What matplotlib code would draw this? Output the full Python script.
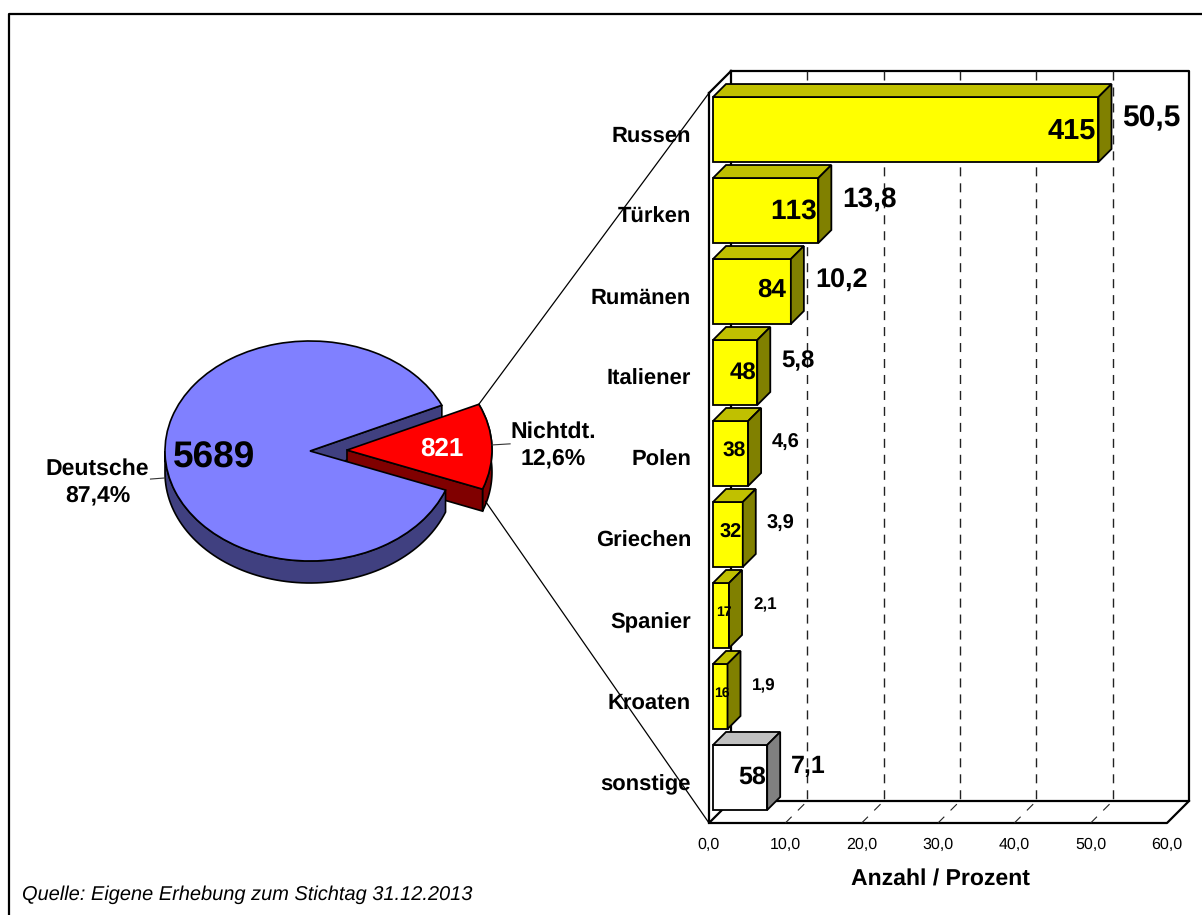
import numpy as np
import matplotlib
matplotlib.use('Agg')
import matplotlib.pyplot as plt
from matplotlib.patches import Polygon, ConnectionPatch
from matplotlib.lines import Line2D

plt.rcParams['font.family'] = ['Liberation Sans', 'DejaVu Sans']
plt.rcParams['text.hinting'] = 'none'
plt.rcParams['text.hinting_factor'] = 1
plt.rcParams['text.kerning_factor'] = 6

# data
pie_labels = ['Nichtdt.\n12,6%', 'Deutsche\n87,4%']
pie_counts = [821, 5689]
categories = ['Russen', 'Türken', 'Rumänen', 'Italiener', 'Polen', 'Griechen', 'Spanier', 'Kroaten', 'sonstige']
percents = [50.5, 13.8, 10.2, 5.8, 4.6, 3.9, 2.1, 1.9, 7.1]
percent_labels = ['50,5', '13,8', '10,2', '5,8', '4,6', '3,9', '2,1', '1,9', '7,1']
counts = [415, 113, 84, 48, 38, 32, 17, 16, 58]
x_ticks = [0, 10, 20, 30, 40, 50, 60]
x_tick_labels = ['0,0', '10,0', '20,0', '30,0', '40,0', '50,0', '60,0']

# styles for each bar
percent_sizes = [21.8, 20.2, 19.2, 17, 14.5, 14.5, 12.2, 12.2, 18]
count_sizes = [21, 20.3, 18.8, 17, 15, 14.3, 10.4, 10.4, 18]
count_gaps = [3, 1, 5, 1, 2, 1, -3, -2, 1]
count_up = [-3, -1, 1, -1, 3, 2, 3, 3, 0]
front = ['#FFFF00'] * 8 + ['#FFFFFF']
top = ['#C0C000'] * 8 + ['#C0C0C0']
side = ['#808000'] * 8 + ['#808080']

W, H = 1202, 915
fig = plt.figure(figsize=(W / 100, H / 100), dpi=100)


def axes_px(x0, y0, x1, y1):
    # pixel box measured from the top left corner of the image
    return fig.add_axes([x0 / W, 1 - y1 / H, (x1 - x0) / W, (y1 - y0) / H])


# bar part
ax = axes_px(709, 93, 1167, 823)
ax.set_xlim(0, 60)
ax.set_ylim(8.562, -0.451)
ax.patch.set_visible(False)
for s in ax.spines.values():
    s.set_visible(False)
px_x = 60 / 458
px_y = 9.013 / 730
wall_x = 22 * px_x
wall_y = 22 * px_y
ymin, ymax = ax.get_ylim()

# walls and floor
wall = dict(color='k', lw=1.6, clip_on=False, zorder=1, solid_capstyle='projecting')
ax.plot([wall_x, 60 + wall_x, 60 + wall_x, wall_x, wall_x],
        [ymax - wall_y, ymax - wall_y, ymin - wall_y, ymin - wall_y, ymax - wall_y], **wall)
ax.plot([0, 0, wall_x], [ymax, ymin, ymin - wall_y], **wall)
ax.plot([0, wall_x], [ymax, ymax - wall_y], **wall)
ax.plot([0, 60, 60 + wall_x], [ymin, ymin, ymin - wall_y], **wall)
for t in x_ticks[1:-1]:
    ax.plot([t + wall_x] * 2, [ymax - wall_y, ymin - wall_y], color='#222222', lw=1,
            ls=(0, (6.5, 5)), clip_on=False, zorder=1)
    ax.plot([t, t + wall_x], [ymin, ymin - wall_y], color='#222222', lw=0.8,
            ls=(0, (8, 8)), clip_on=False, zorder=1)

# bars with their top and side faces
rows = np.arange(len(categories))
bar_h = 65 / 81
x_start = 4 * px_x
ddx = 13 * px_x
ddy = 13 * px_y
ax.barh(rows, percents, left=x_start, height=bar_h, color=front, edgecolor='k', lw=1.3, zorder=3)
for i, p in enumerate(percents):
    up = i - bar_h / 2
    low = i + bar_h / 2
    end = x_start + p
    ax.add_patch(Polygon([(x_start, up), (end, up), (end + ddx, up - ddy), (x_start + ddx, up - ddy)],
                         fc=top[i], ec='k', lw=1.3, zorder=3, clip_on=False))
    ax.add_patch(Polygon([(end, up), (end + ddx, up - ddy), (end + ddx, low - ddy), (end, low)],
                         fc=side[i], ec='k', lw=1.3, zorder=3, clip_on=False))
    ax.annotate(str(counts[i]), (end, i), xytext=(-count_gaps[i], count_up[i]), textcoords='offset pixels',
                ha='right', va='center', fontsize=count_sizes[i], fontweight='bold', zorder=5)
    ax.annotate(percent_labels[i], (end, i), xytext=(24, 11), textcoords='offset pixels',
                ha='left', va='center', fontsize=percent_sizes[i], fontweight='bold', zorder=5)
    ax.annotate(categories[i], (0, i), xytext=(-18, -7), textcoords='offset pixels',
                ha='right', va='center', fontsize=15.7, fontweight='bold', zorder=5)

ax.set_xticks(x_ticks)
ax.set_xticklabels(x_tick_labels, fontsize=11.8)
ax.set_yticks([])
ax.tick_params(axis='x', length=0, pad=10)
ax.set_xlabel('Anzahl / Prozent', fontsize=16.6, fontweight='bold', labelpad=12, x=0.506)

# pie part, one unit is 145 px wide and 110 px high
pax = axes_px(310 - 1.2 * 145, 451 - 1.2 * 110, 310 + 1.4 * 145, 451 + 1.5 * 110)
wedges, _ = pax.pie(pie_counts, startangle=-20.8, colors=['#FF0000', '#8080FF'], explode=[37 / 145, 0],
                    wedgeprops=dict(edgecolor='k', linewidth=1.2))
pax.set_aspect('auto')
pax.set_xlim(-1.2, 1.4)
pax.set_ylim(-1.5, 1.2)
depth = 22 / 110


def arc(w, a, b, dy=0.0):
    th = np.radians(np.linspace(a, b, 80))
    return np.column_stack([w.center[0] + w.r * np.cos(th), w.center[1] + w.r * np.sin(th) - dy])


red, blue = wedges
red.set_zorder(4)
blue.set_zorder(6)

# cut face behind the pulled out slice
p_up = arc(blue, blue.theta1, blue.theta1)[0]
pax.add_patch(Polygon([blue.center, p_up, p_up - [0, depth], np.array(blue.center) - [0, depth]],
                      fc='#404080', ec='k', lw=1.2, zorder=2))
# side of red slice
p_low = arc(red, red.theta1, red.theta1)[0]
pax.add_patch(Polygon(np.vstack([arc(red, red.theta1, red.theta2),
                                 arc(red, red.theta2, red.theta1, depth)]),
                      fc='#800000', ec='k', lw=1.2, zorder=3))
pax.add_patch(Polygon([red.center, p_low, p_low - [0, depth], np.array(red.center) - [0, depth]],
                      fc='#800000', ec='k', lw=1.2, zorder=3))
# outer rim of big part
pax.add_patch(Polygon(np.vstack([arc(blue, 180, blue.theta2), arc(blue, blue.theta2, 180, depth)]),
                      fc='#404080', ec='k', lw=1.2, zorder=5))

pax.text(-0.66, -0.06, str(pie_counts[1]), fontsize=26.5, fontweight='bold', ha='center', va='center', zorder=8)
pax.text(0.91, 0.02, str(pie_counts[0]), fontsize=18.6, fontweight='bold', color='w', ha='center',
         va='center', zorder=8)
pax.text(1.675, 0.055, pie_labels[0], fontsize=16.6, fontweight='bold', ha='center', va='center',
         linespacing=1.3, clip_on=False, zorder=8)
pax.text(-1.465, -0.28, pie_labels[1], fontsize=16.6, fontweight='bold', ha='center', va='center',
         linespacing=1.3, clip_on=False, zorder=8)
pax.plot([1.255, 1.38], [0.055, 0.065], color='#333333', lw=0.8, clip_on=False, zorder=8)
pax.plot([-1.1, -1.0], [-0.255, -0.245], color='#333333', lw=0.8, clip_on=False, zorder=8)

# lines from the slice to the bars
p_high = arc(red, red.theta2, red.theta2)[0]
for start, end in [(p_high, (0, ymax)), (p_low - [-0.02, 0.11], (0, ymin))]:
    fig.add_artist(ConnectionPatch(start, end, 'data', 'data', axesA=pax, axesB=ax, color='k', lw=0.9))

# frame and source
fig.add_artist(Line2D([8.5 / W, 8.5 / W, 1], [0, 1 - 14 / H, 1 - 14 / H], color='k', lw=1.6,
                      transform=fig.transFigure))
fig.text(22 / W, 1 - 895 / H, 'Quelle: Eigene Erhebung zum Stichtag 31.12.2013', fontsize=14.4,
         style='italic', va='center')

fig.savefig('out.png', dpi=100)
